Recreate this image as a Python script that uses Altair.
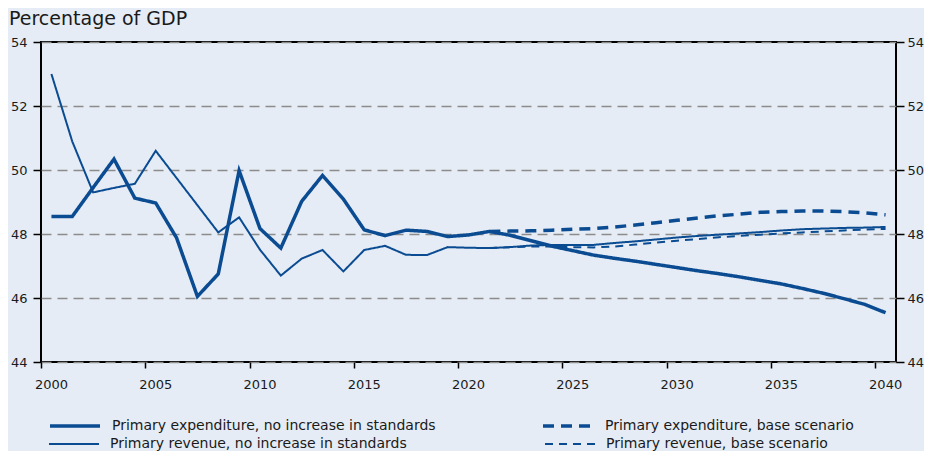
"""Primary expenditure and revenue as a percentage of GDP, 2000-2040."""

import altair as alt
import pandas as pd


# Years of observations (plotted mid-year)
HIST_YEARS = list(range(2000, 2022))
PROJ_YEARS = list(range(2022, 2041))
BASE_YEARS = list(range(2021, 2041))

EXP_HIST = [48.55, 48.55, 49.45, 50.34, 49.12, 48.97, 47.88, 46.05, 46.75, 49.98, 48.17,
            47.56, 49.02, 49.83, 49.09, 48.13, 47.95, 48.12, 48.08, 47.92, 47.97, 48.08]
REV_HIST = [53.00, 50.89, 49.30, 49.44, 49.57, 50.60, 49.75, 48.90, 48.05, 48.52, 47.51,
            46.70, 47.23, 47.50, 46.83, 47.50, 47.63, 47.35, 47.34, 47.59, 47.57, 47.56]

# Projections, no increase in standards (continue the observed lines)
EXP_NO_INCREASE = [47.96, 47.79, 47.62, 47.48, 47.34, 47.24, 47.15, 47.05, 46.95, 46.85,
                   46.76, 46.66, 46.55, 46.44, 46.30, 46.15, 45.98, 45.80, 45.54]
REV_NO_INCREASE = [47.59, 47.64, 47.66, 47.66, 47.66, 47.72, 47.77, 47.83, 47.89, 47.94,
                   47.98, 48.02, 48.06, 48.11, 48.15, 48.17, 48.19, 48.20, 48.22]

# Projections, base scenario
EXP_BASE = [48.08, 48.09, 48.10, 48.12, 48.15, 48.17, 48.22, 48.28, 48.35, 48.43,
            48.50, 48.57, 48.62, 48.68, 48.70, 48.72, 48.72, 48.70, 48.66, 48.60]
REV_BASE = [47.56, 47.59, 47.61, 47.61, 47.59, 47.58, 47.61, 47.67, 47.73, 47.79,
            47.84, 47.90, 47.94, 47.98, 48.02, 48.05, 48.08, 48.11, 48.14, 48.16]

EXP_SERIES = [
    "Primary expenditure, no increase in standards",
    "Primary expenditure, base scenario",
]
REV_SERIES = [
    "Primary revenue, no increase in standards",
    "Primary revenue, base scenario",
]
X_TICKS = list(range(2000, 2041, 5))
Y_TICKS = [44, 46, 48, 50, 52, 54]

BLUE = "#0a4b92"
BG = "#e5ecf5"
FONT = "DejaVu Sans"


def build_frame():
    rows = []
    parts = [
        ("exp", EXP_SERIES[0], HIST_YEARS + PROJ_YEARS, EXP_HIST + EXP_NO_INCREASE),
        ("exp", EXP_SERIES[1], BASE_YEARS, EXP_BASE),
        ("rev", REV_SERIES[0], HIST_YEARS + PROJ_YEARS, REV_HIST + REV_NO_INCREASE),
        ("rev", REV_SERIES[1], BASE_YEARS, REV_BASE),
    ]
    for kind, name, years, values in parts:
        for year, value in zip(years, values):
            rows.append({"kind": kind, "series": name, "year": year, "value": value})
    return pd.DataFrame(rows)


df = build_frame()

x_scale = alt.Scale(domain=[2000, 2041], nice=False, zero=False)
y_scale = alt.Scale(domain=[44, 54], nice=False, zero=False)

x_enc = alt.X(
    "t:Q",
    scale=x_scale,
    title=None,
    axis=alt.Axis(values=X_TICKS, format="d", grid=False, domain=False,
                  labelFlush=False, labelOffset=10,
                  tickColor="black", tickWidth=1.5, tickSize=6, labelPadding=10),
)

base = alt.Chart(df).transform_calculate(t="datum.year + 0.5")


def legend_row(y, column_padding, stroke_width):
    # one legend row per line group, both rows share the same column start
    return alt.Legend(
        title=None, orient="none", legendX=7, legendY=y, direction="horizontal",
        symbolType="stroke", symbolSize=2500, symbolStrokeColor=BLUE,
        symbolStrokeWidth=stroke_width, labelFont=FONT, labelFontSize=14,
        labelColor="#1a1a1a", labelOffset=10, labelLimit=600,
        columnPadding=column_padding,
    )


revenue = base.transform_filter(alt.datum.kind == "rev").mark_line(
    clip=True, color=BLUE, strokeWidth=2
).encode(
    x=x_enc,
    y=alt.Y("value:Q", scale=y_scale, axis=None),
    strokeDash=alt.StrokeDash(
        "series:N",
        scale=alt.Scale(domain=REV_SERIES, range=[[1, 0], [8, 6]]),
        legend=legend_row(376, 134, 2),
    ),
)

expenditure = base.transform_filter(alt.datum.kind == "exp").mark_line(
    clip=True, color=BLUE, strokeWidth=3.5
).encode(
    x=x_enc,
    y=alt.Y(
        "value:Q",
        scale=y_scale,
        title=None,
        axis=alt.Axis(values=Y_TICKS, orient="left", grid=True, gridDash=[10, 6],
                      gridColor="#8c8c8c", gridWidth=1.5, domain=False,
                      tickColor="black", tickWidth=1.5, tickSize=8, labelPadding=6),
    ),
    strokeDash=alt.StrokeDash(
        "series:N",
        scale=alt.Scale(domain=EXP_SERIES, range=[[1, 0], [11, 7]]),
        legend=legend_row(357, 100, 3.5),
    ),
)

right_axis = base.mark_line(opacity=0).encode(
    x=alt.X("t:Q", scale=x_scale),
    y=alt.Y(
        "value:Q",
        scale=y_scale,
        title=None,
        axis=alt.Axis(values=Y_TICKS, orient="right", grid=False, domain=False,
                      tickColor="black", tickWidth=1.5, tickSize=8, labelPadding=3),
    ),
    detail="series:N",
)

chart = (
    alt.layer(revenue, expenditure, right_axis)
    .resolve_axis(y="independent")
    .resolve_scale(strokeDash="independent")
    .resolve_legend(strokeDash="independent")
    .properties(
        width=855,
        height=320,
        autosize=alt.AutoSizeParams(type="none"),
        padding={"left": 33, "top": 34, "right": 28, "bottom": 92},
        background=BG,
        title=alt.TitleParams("Percentage of GDP", anchor="start", frame="group",
                              dx=-32, dy=24, offset=12, baseline="bottom", font=FONT,
                              fontSize=19, fontWeight="normal", color="#1a1a1a"),
    )
    .configure_view(stroke="black", strokeWidth=2, fill=BG)
    .configure_axis(labelFont=FONT, labelFontSize=13, labelColor="#1a1a1a")
)

chart.save("out.html", embed_options={"renderer": "svg", "actions": False})
